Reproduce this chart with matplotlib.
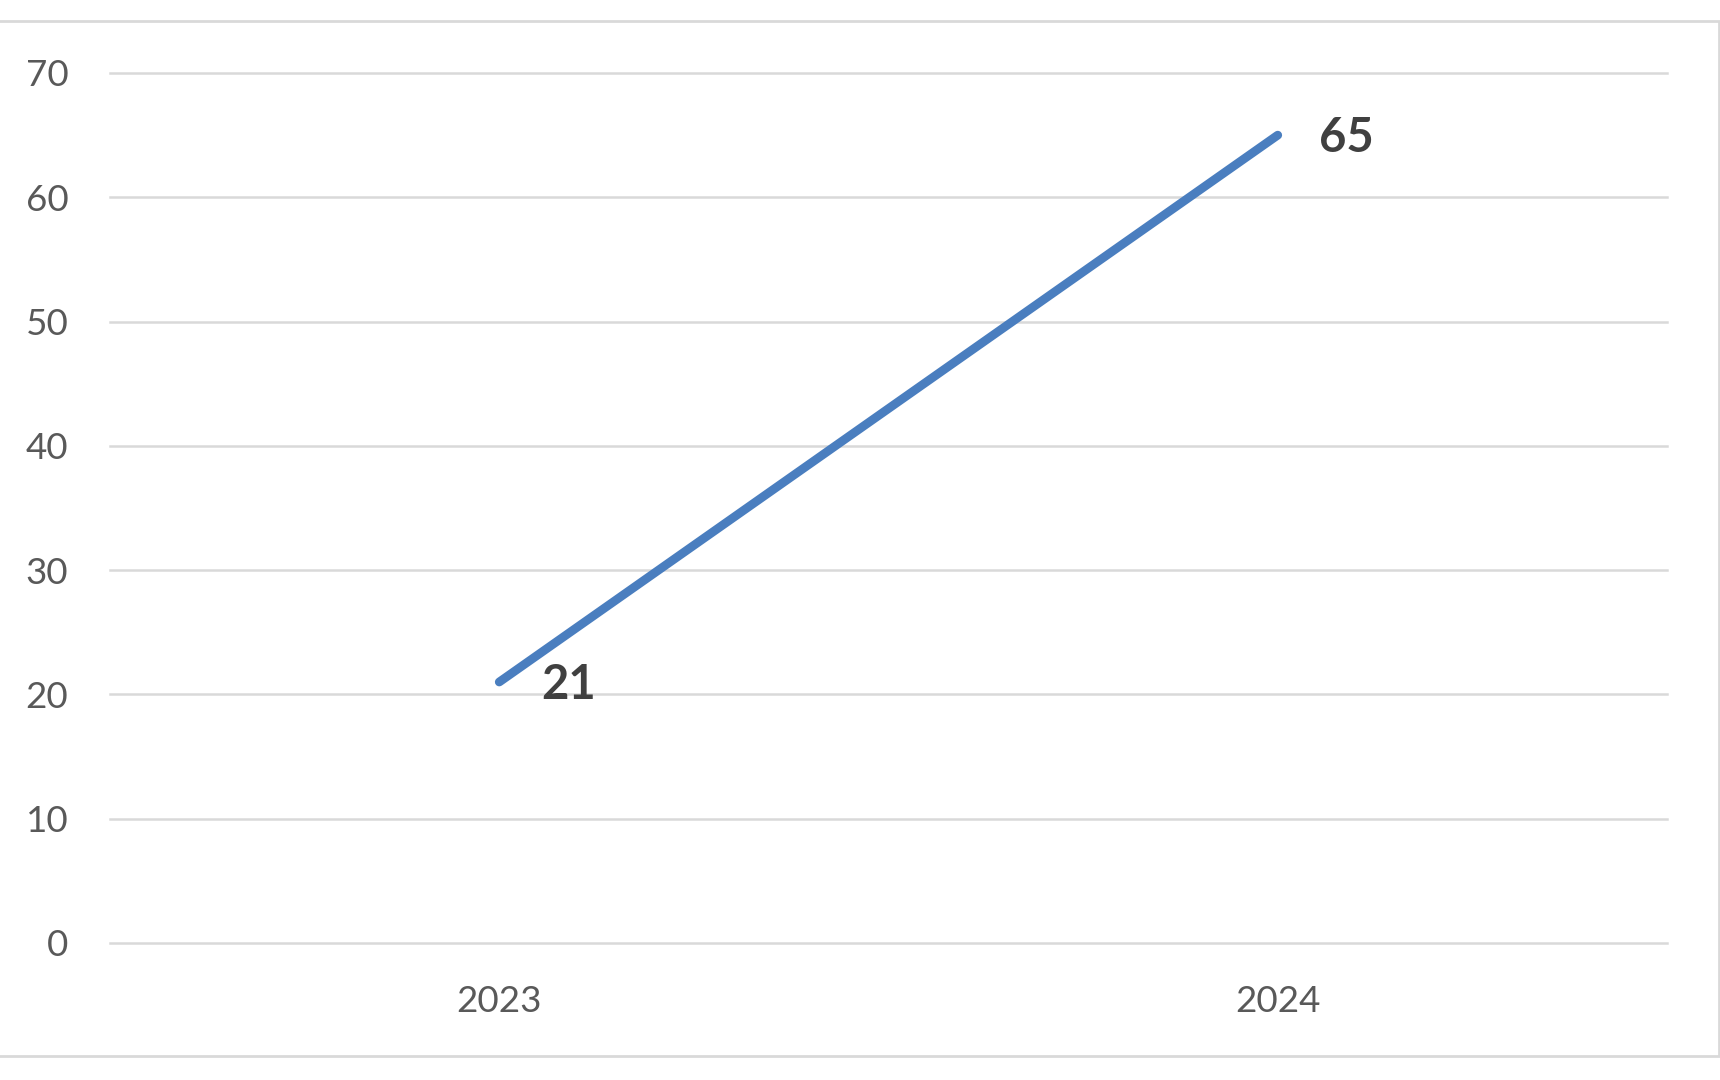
import matplotlib
matplotlib.use("Agg")
import matplotlib.pyplot as plt
from matplotlib.patches import Rectangle

categories = ["2023", "2024"]
values = [21, 65]
yticks = [0, 10, 20, 30, 40, 50, 60, 70]

plt.rcParams['font.family'] = ['Lato', 'DejaVu Sans']

fig = plt.figure(figsize=(17.2, 10.8), dpi=100)
W, H = 1720, 1080
ax = fig.add_axes([110 / W, 1 - 943 / H, (1667 - 110) / W, (943 - 73) / H])

x = list(range(len(categories)))
ax.plot(x, values, color="#4A7EBF", linewidth=6.3, solid_capstyle="round", zorder=3)
for xi, v in zip(x, values):
    ax.annotate(str(v), (xi, v), xytext=(30, -2), textcoords="offset points",
                ha="left", va="center", fontsize=34, fontweight="bold", color="#404040")

ax.set_xlim(-0.5, 1.5)
ax.set_ylim(0, 70)
ax.set_yticks(yticks)
ax.set_xticks(x)
ax.set_xticklabels(categories)
ax.grid(axis="y", color="#D9D9D9", linewidth=1.8)
ax.set_axisbelow(True)
for gl in ax.get_ygridlines():
    gl.set_clip_on(False)
for s in ax.spines.values():
    s.set_visible(False)
ax.tick_params(axis="both", length=0, labelsize=26.5, labelcolor="#595959")
ax.tick_params(axis="y", pad=30)
ax.tick_params(axis="x", pad=30)

fig.patches.append(Rectangle((-0.01, 1 - 1056 / H), 1719 / W + 0.01, (1056 - 21) / H,
                             transform=fig.transFigure, fill=False,
                             edgecolor="#D9D9D9", linewidth=2, zorder=0))

fig.savefig("out.png", dpi=100, facecolor="white")
